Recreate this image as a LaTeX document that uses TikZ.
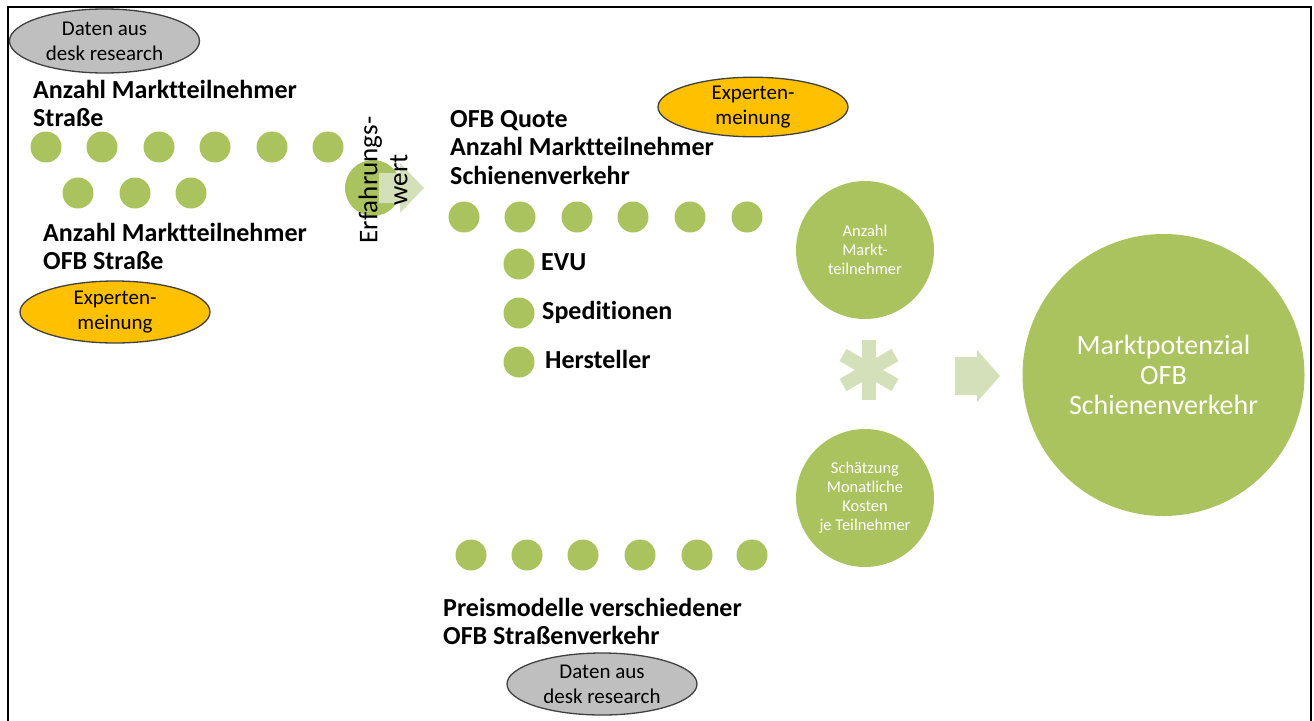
\documentclass[tikz,border=0pt]{standalone}
\usepackage{fontspec}
\setmainfont{Carlito}[Ligatures=NoCommon]
\usetikzlibrary{shapes.geometric}
\definecolor{grn}{HTML}{ABC35F}
\definecolor{lgrn}{HTML}{D4E0BA}
\definecolor{org}{HTML}{FFC000}
\definecolor{gry}{HTML}{BFBFBF}
\definecolor{edgec}{HTML}{404040}
\begin{document}
\begin{tikzpicture}[x=1pt,y=-1pt,
  dot/.style={circle,fill=grn,minimum size=31pt,inner sep=0pt},
  lbl/.style={anchor=north west,inner sep=0pt,align=left,font=\fontsize{26}{28.5}\selectfont\bfseries},
  item/.style={anchor=base west,inner sep=0pt,font=\fontsize{26}{28.5}\selectfont\bfseries},
  blob/.style={ellipse,draw=edgec,line width=1.3pt,inner sep=0pt,align=center,minimum width=190pt,minimum height=62pt,font=\fontsize{21}{25}\selectfont},
  greyblob/.style={blob,fill=gry},
  orangeblob/.style={blob,fill=org},
  bigcirc/.style={circle,fill=grn,inner sep=0pt,align=center,text=white},
  blockarrow/.style={fill=lgrn}]
\useasboundingbox (0,0) rectangle (1314,720);
% frame
\draw[line width=1.3pt] (1311,722) -- (1311,7) -- (8,7) -- (8,722);

% left part
\node[greyblob,minimum height=64pt] (d1) at (104.5,41) {Daten aus\\desk research};
\node[lbl] (l1) at (33,80) {Anzahl Marktteilnehmer\\Straße};
\foreach \x [count=\i] in {46,102,159,215,272,328}
  \node[dot] (a\i) at (\x,147) {};
\foreach \x [count=\i] in {78,135,191}
  \node[dot] (b\i) at (\x,193) {};
\node[lbl] (l2) at (43,223) {Anzahl Marktteilnehmer\\OFB Straße};
\node[orangeblob] (e1) at (115,312) {Experten-\\meinung};

% Erfahrungswert
\node[circle,fill=grn,minimum size=56pt,inner sep=0pt] (ec) at (373,188) {};
\fill[blockarrow] (379,173) -- (400,173) -- (400,163) -- (424,188) -- (400,213) -- (400,203) -- (379,203) -- cycle;
\node[rotate=90,inner sep=0pt,align=center,font=\fontsize{27}{30}\selectfont] (ew) at (383,180) {Erfahrungs-\\wert};

% middle part
\node[orangeblob,minimum height=55pt] (e2) at (753,107) {Experten-\\meinung};
\node[lbl] (l3) at (450,110) {OFB Quote\\Anzahl Marktteilnehmer\\Schienenverkehr};
\foreach \x [count=\i] in {464,520,577,633,690,747}
  \node[dot] (c\i) at (\x,217) {};
\node[dot] (s1) at (519,264) {};
\node[dot] (s2) at (519,313) {};
\node[dot] (s3) at (519,362) {};
\node[item] (t1) at (541,270) {EVU};
\node[item] (t2) at (542,319) {Speditionen};
\node[item] (t3) at (545,368) {Hersteller};

% bottom part
\foreach \x [count=\i] in {471,527,583,640,697,752}
  \node[dot] (p\i) at (\x,555) {};
\node[lbl] (l4) at (443,598) {Preismodelle verschiedener\\OFB Straßenverkehr};
\node[greyblob] (d2) at (602,684) {Daten aus\\desk research};

% right part
\node[bigcirc,minimum size=138pt,font=\fontsize{16.5}{19}\selectfont] (k1) at (865,250) {Anzahl\\Markt-\\teilnehmer};
\node[bigcirc,minimum size=138pt,font=\fontsize{16.5}{19}\selectfont] (k2) at (865,498) {Schätzung\\Monatliche\\Kosten\\je Teilnehmer};
\coordinate (ast) at (869,370);
\foreach \a in {90,30,-30}
  \draw[lgrn,line width=14pt] (ast) ++(\a:30) -- ++(\a+180:60);
\fill[blockarrow] (955,357) -- (977,357) -- (977,350) -- (1000,376) -- (977,402) -- (977,395) -- (955,395) -- cycle;
\node[bigcirc,minimum size=282pt,font=\fontsize{28}{30}\selectfont] (mp) at (1163.5,375) {Marktpotenzial\\OFB\\Schienenverkehr};
\end{tikzpicture}
\end{document}
